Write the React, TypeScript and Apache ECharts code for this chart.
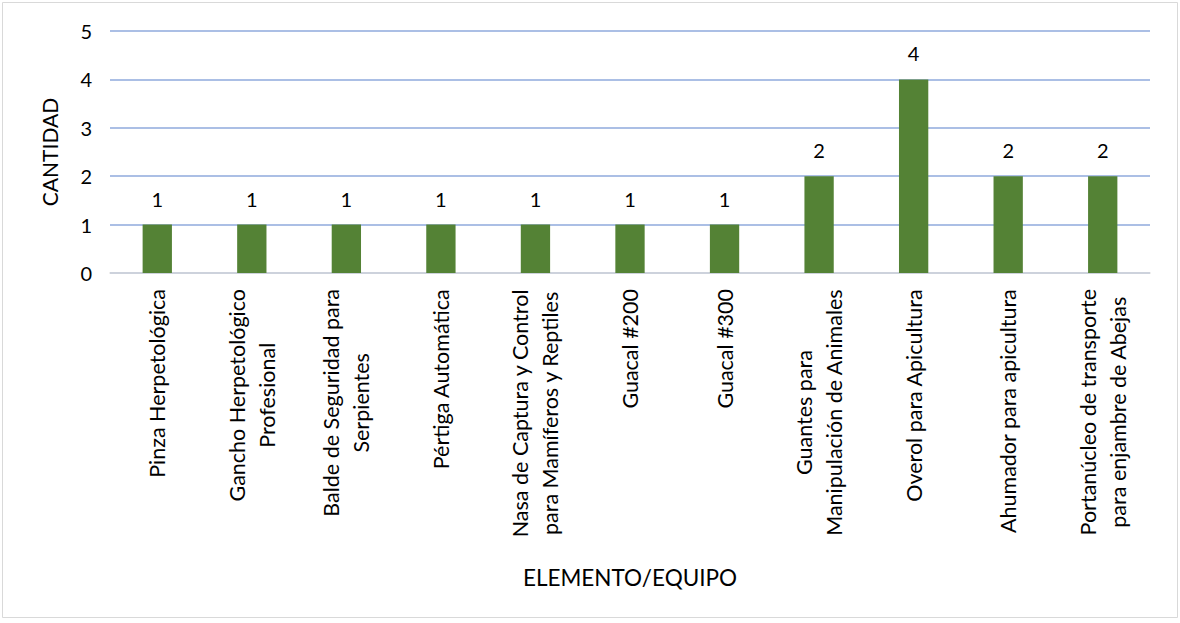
import React, { useEffect, useRef } from "react";
import * as echarts from "echarts";

const categories: string[] = [
  "Pinza Herpetológica",
  "Gancho Herpetológico\nProfesional",
  "Balde de Seguridad para\nSerpientes",
  "Pértiga Automática",
  "Nasa de Captura y Control\npara Mamíferos y Reptiles",
  "Guacal #200",
  "Guacal #300",
  "Guantes para\nManipulación de Animales",
  "Overol para Apicultura",
  "Ahumador para apicultura",
  "Portanúcleo de transporte\npara enjambre de Abejas",
];
const values: number[] = [1, 1, 1, 1, 1, 1, 1, 2, 4, 2, 2];
const yTicks: number[] = [0, 1, 2, 3, 4, 5];
const xTitle = "ELEMENTO/EQUIPO";
const yTitle = "CANTIDAD";

const FONT = "Lato, 'Open Sans', sans-serif";
const LABEL_SIZE = 21.5;

export default function App() {
  const ref = useRef<HTMLDivElement>(null);
  useEffect(() => {
    if (!ref.current) return;
    const chart = echarts.init(ref.current, undefined, { renderer: "svg" });
    chart.setOption({
      animation: false,
      backgroundColor: "#ffffff",
      textStyle: { fontFamily: FONT },
      graphic: [
        {
          type: "rect",
          shape: { x: 2.5, y: 2.5, width: 1175, height: 615 },
          style: { fill: "none", stroke: "#d9d9d9", lineWidth: 1 },
          silent: true,
        },
      ],
      grid: { left: 110, right: 30, top: 31, bottom: 350, containLabel: false },
      xAxis: {
        type: "category",
        data: categories,
        name: xTitle,
        nameLocation: "middle",
        nameGap: 293,
        nameTextStyle: { fontSize: 22.5, color: "#000", fontFamily: FONT },
        axisLine: { lineStyle: { color: "#d9d9d9", width: 1.5 } },
        axisTick: { show: false },
        axisLabel: {
          rotate: 90,
          interval: 0,
          margin: 16,
          color: "#000",
          fontSize: LABEL_SIZE,
          fontFamily: FONT,
          lineHeight: 30,
          formatter: (v: string) =>
            v
              .split("\n")
              .map((l) => `{c|${l}}`)
              .join("\n"),
          rich: {
            c: {
              align: "center",
              fontSize: LABEL_SIZE,
              fontFamily: FONT,
              lineHeight: 30,
              color: "#000",
            },
          },
        },
      },
      yAxis: {
        type: "value",
        min: yTicks[0],
        max: yTicks[yTicks.length - 1],
        interval: 1,
        name: yTitle,
        nameLocation: "middle",
        nameGap: 50,
        nameTextStyle: { fontSize: 21, color: "#000", fontFamily: FONT },
        axisLine: { show: false },
        axisTick: { show: false },
        axisLabel: { color: "#000", fontSize: 20, margin: 18, fontFamily: FONT },
        splitLine: { lineStyle: { color: "#8faadc", width: 1.5 } },
      },
      series: [
        {
          type: "bar",
          data: values,
          barWidth: "31%",
          itemStyle: { color: "#548235" },
          label: {
            show: true,
            position: "top",
            distance: 16,
            color: "#000",
            fontSize: 20,
            fontFamily: FONT,
          },
        },
      ],
    });
    return () => chart.dispose();
  }, []);
  return (
    <div
      ref={ref}
      style={{ position: "fixed", left: 0, top: 0, width: 1180, height: 623 }}
    />
  );
}
